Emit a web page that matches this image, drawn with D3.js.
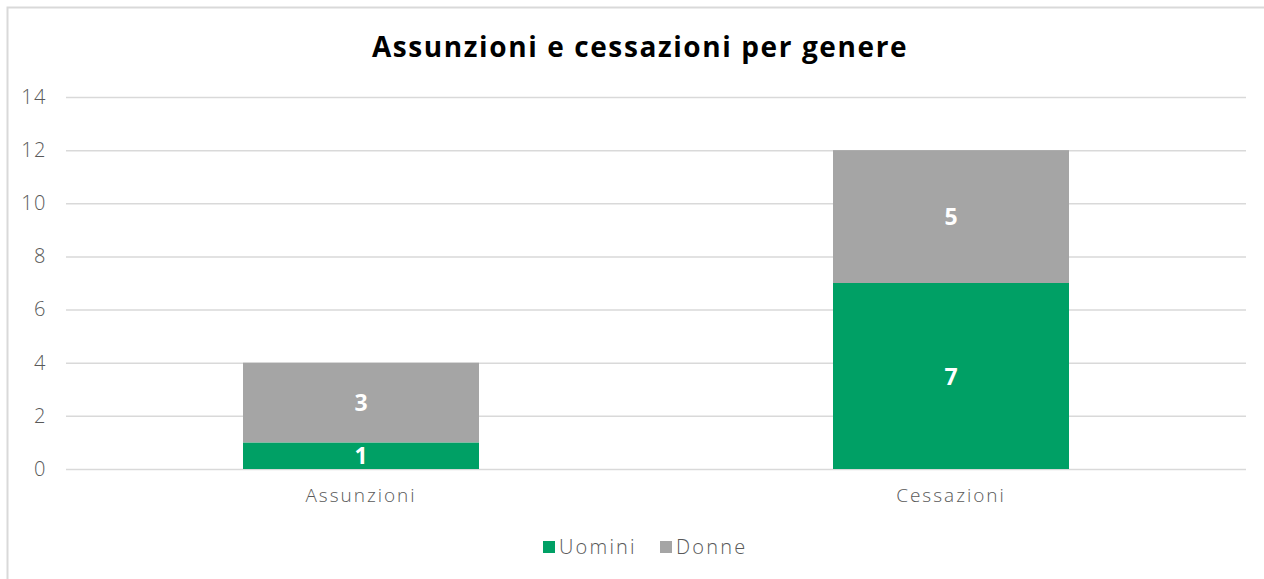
<!DOCTYPE html>
<html>
<head>
<meta charset="utf-8">
<script src="https://cdn.jsdelivr.net/npm/d3@7"></script>
<style>
  body { margin: 0; background: #fff; }
  svg { display: block; font-family: "Open Sans", sans-serif; }
</style>
</head>
<body>
<svg width="1264" height="579"></svg>
<script>
const categories = ["Assunzioni", "Cessazioni"];
const seriesNames = ["Uomini", "Donne"];
const uomini = [1, 7];
const donne = [3, 5];
const yTicks = [0, 2, 4, 6, 8, 10, 12, 14];
const colors = ["#00A065", "#A5A5A5"];

var svg = d3.select("svg");

// chart frame
svg.append("rect")
    .attr("x", 7.5).attr("y", 7.5)
    .attr("width", 1300).attr("height", 600)
    .attr("fill", "#fff")
    .attr("stroke", "#d9d9d9")
    .attr("stroke-width", 2);

svg.append("text")
    .attr("x", 640).attr("y", 57)
    .attr("text-anchor", "middle")
    .attr("font-size", 28)
    .attr("letter-spacing", 1.6)
    .attr("font-weight", "bold")
    .attr("fill", "#000")
    .text("Assunzioni e cessazioni per genere");

var plotLeft = 66, plotRight = 1246, plotTop = 97, plotBottom = 469;

var x = d3.scaleBand().domain(categories).range([plotLeft, plotRight]).paddingInner(0.6).paddingOuter(0.3);
var y = d3.scaleLinear().domain([0, 14]).range([plotBottom, plotTop]);

// gridlines
svg.append("g").selectAll("line")
    .data(yTicks)
    .enter().append("line")
    .attr("x1", plotLeft).attr("x2", plotRight)
    .attr("y1", d => y(d) + 0.5).attr("y2", d => y(d) + 0.5)
    .attr("stroke", "#d9d9d9")
    .attr("stroke-width", 1.5);

// y axis labels
var yAxis = svg.append("g")
    .attr("transform", "translate(" + 47 + ",0)")
    .call(d3.axisLeft(y).tickValues(yTicks).tickSize(0).tickPadding(0));
yAxis.select(".domain").remove();
yAxis.selectAll("text")
    .attr("font-size", 20)
    .attr("letter-spacing", 1.5)
    .attr("font-family", "Open Sans, sans-serif")
    .attr("font-weight", 300)
    .attr("fill", "#595959");

// x axis labels
var xAxis = svg.append("g")
    .attr("transform", "translate(0," + plotBottom + ")")
    .call(d3.axisBottom(x).tickSize(0).tickPadding(20));
xAxis.select(".domain").remove();
xAxis.selectAll("text")
    .attr("font-size", 19)
    .attr("letter-spacing", 2)
    .attr("font-family", "Open Sans, sans-serif")
    .attr("font-weight", 300)
    .attr("fill", "#595959");

// stacked data
var table = categories.map((c, i) => ({ cat: c, Uomini: uomini[i], Donne: donne[i] }));
var stack = d3.stack().keys(seriesNames)(table);

var layers = svg.append("g").selectAll("g")
    .data(stack)
    .enter().append("g")
    .attr("fill", (d, i) => colors[i]);

layers.selectAll("rect")
    .data(d => d)
    .enter().append("rect")
    .attr("x", d => x(d.data.cat))
    .attr("y", d => y(d[1]))
    .attr("width", x.bandwidth())
    .attr("height", d => y(d[0]) - y(d[1]));

layers.selectAll("text")
    .data(d => d)
    .enter().append("text")
    .attr("x", d => x(d.data.cat) + x.bandwidth() / 2)
    .attr("y", d => (y(d[0]) + y(d[1])) / 2)
    .attr("dy", "0.38em")
    .attr("text-anchor", "middle")
    .attr("font-size", 23)
    .attr("font-weight", "bold")
    .attr("fill", "#fff")
    .text(d => d[1] - d[0]);

// legend
var legendX = [543, 660];
var legend = svg.append("g").selectAll("g")
    .data(seriesNames)
    .enter().append("g")
    .attr("transform", (d, i) => "translate(" + legendX[i] + ",541)");
legend.append("rect")
    .attr("width", 12).attr("height", 12)
    .attr("fill", (d, i) => colors[i]);
legend.append("text")
    .attr("x", 16).attr("y", 6)
    .attr("dy", "0.36em")
    .attr("font-size", 20)
    .attr("letter-spacing", 2.2)
    .attr("font-weight", 300)
    .attr("fill", "#595959")
    .text(d => d);
</script>
</body>
</html>
